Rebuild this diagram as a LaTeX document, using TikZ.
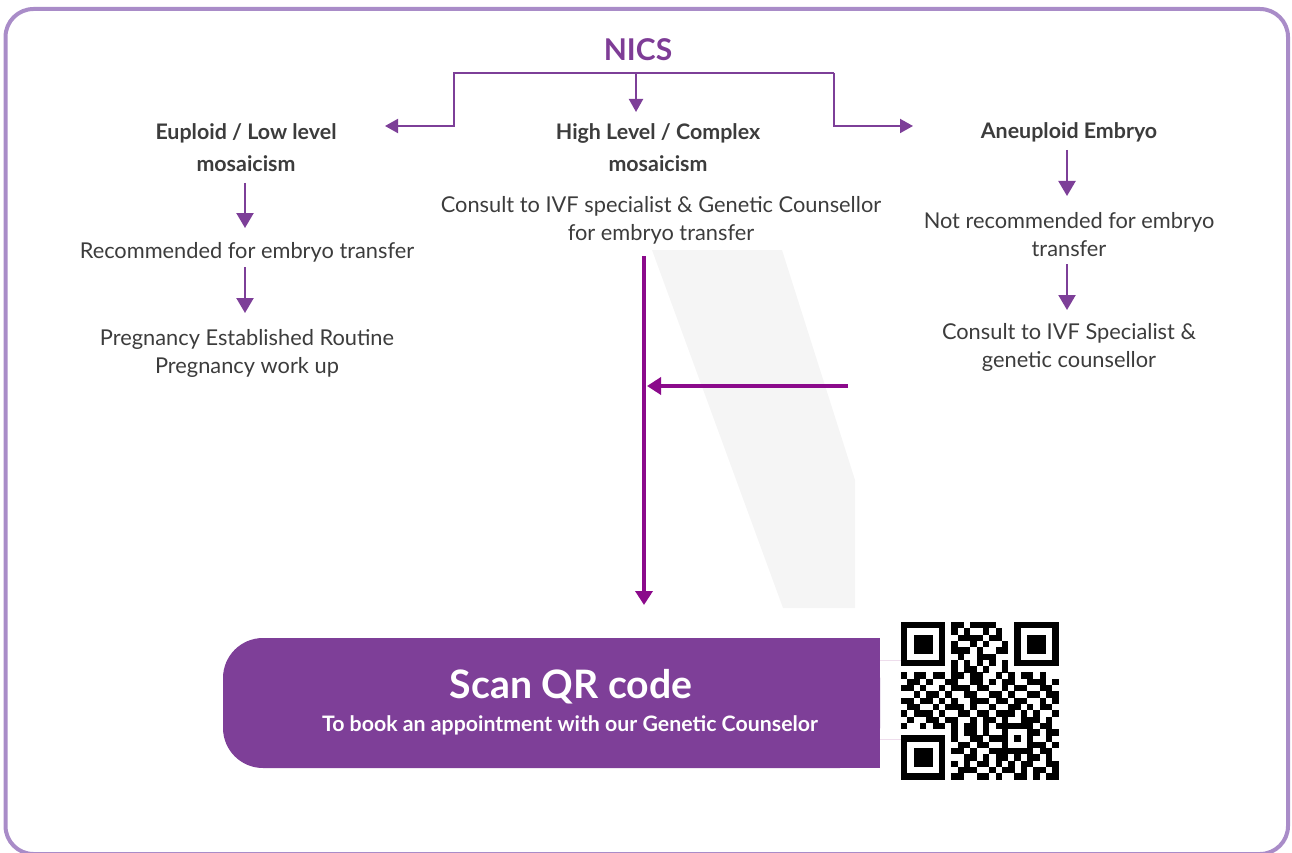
\documentclass[tikz,border=0pt]{standalone}
\usepackage{fontspec}
\setmainfont{Lato}
\usetikzlibrary{arrows.meta}
\definecolor{txtgray}{HTML}{3C3C3C}
\definecolor{nicspurple}{HTML}{7E3C96}
\definecolor{toparrow}{HTML}{7D3F98}
\definecolor{longarrow}{HTML}{8B0A8B}
\definecolor{bannerpurple}{HTML}{7E3F98}
\definecolor{bordercol}{HTML}{A98CC8}
\definecolor{wmgray}{HTML}{F5F5F5}
\definecolor{faintpink}{HTML}{EEDDEC}
\newcount\qrcol
\def\qrrow#1#2{\def\qrr{#1}\qrcol=0\relax\qrparse#2\relax}
\def\qrparse#1{\ifx\relax#1\else\if1#1\fill[qrblack] ({901+\the\qrcol*6.3},{622+\qrr*6.3}) rectangle ++(6.45,6.45);\fi\advance\qrcol by 1\relax\expandafter\qrparse\fi}
\tikzset{
  txt/.style={font=\fontsize{21.8}{28}\selectfont, text=txtgray, align=center, inner sep=0pt},
  btxt/.style={font=\bfseries\fontsize{21.4}{32}\selectfont, text=txtgray, align=center, inner sep=0pt},
  tline/.style={draw=toparrow, line width=2pt},
  tarr/.style={tline, -{Triangle[width=14pt,length=13pt]}},
  carr/.style={draw=toparrow, line width=2.3pt, -{Triangle[width=17pt,length=15pt]}},
  larr/.style={draw=longarrow, line width=3.5pt, -{Triangle[width=17pt,length=14pt]}},
  qrblack/.style={fill=black},
  banner/.style={fill=bannerpurple, draw=none},
}
\begin{document}
\begin{tikzpicture}[x=1pt,y=-1pt]
\useasboundingbox (0,0) rectangle (1292,853);
% outer frame
\draw[bordercol, line width=4pt, rounded corners=28pt] (5.5,9) rectangle (1288,854);
% watermark
\fill[wmgray] (652,250) -- (782,250) -- (855,480) -- (855,608) -- (783,608) -- cycle;
% title
\node[font=\bfseries\fontsize{30}{34}\selectfont, text=nicspurple, inner sep=0pt] (nics) at (638,50) {NICS};
% column heads
\node[btxt] (eu) at (246,147.5) {Euploid / Low level\\mosaicism};
\node[btxt] (hl) at (658,147.5) {High Level / Complex\\mosaicism};
\node[btxt] (an) at (1069,132.5) {Aneuploid Embryo};
% left column
\node[txt] (rec) at (247,252.5) {Recommended for embryo transfer};
\node[txt] (preg) at (247,353.5) {Pregnancy Established Routine\\Pregnancy work up};
% middle column
\node[txt] (cons1) at (661,220.5) {Consult to IVF specialist \& Genetic Counsellor\\for embryo transfer};
% right column
\node[txt] (notrec) at (1069,234.5) {Not recommended for embryo\\transfer};
\node[txt] (cons2) at (1069,347.5) {Consult to IVF Specialist \&\\genetic counsellor};
% bracket connector
\coordinate (barL) at (454,73);
\coordinate (barR) at (834,73);
\coordinate (tipL) at (385,126);
\coordinate (tipR) at (913,126);
\coordinate (midtop) at (636,73);
\coordinate (midtip) at (636,112);
\draw[tarr] (barR) -- (barL) |- (tipL);
\draw[tarr] (barR) |- (tipR);
\draw[tarr] (midtop) -- (midtip);
% column arrows
\coordinate (l1s) at (245,183); \coordinate (l1e) at (245,228);
\coordinate (l2s) at (245,267); \coordinate (l2e) at (245,313);
\coordinate (r1s) at (1067,150); \coordinate (r1e) at (1067,196);
\coordinate (r2s) at (1067,264); \coordinate (r2e) at (1067,310);
\draw[carr] (l1s) -- (l1e);
\draw[carr] (l2s) -- (l2e);
\draw[carr] (r1s) -- (r1e);
\draw[carr] (r2s) -- (r2e);
% long arrows
\coordinate (vs) at (644,256);
\coordinate (ve) at (644,605);
\coordinate (hs) at (848,386);
\coordinate (he) at (647,386);
\draw[larr] (vs) -- (ve);
\draw[larr] (hs) -- (he);
% banner
\fill[banner, rounded corners=40pt] (223,638) rectangle (880,768);
\fill[banner] (500,638) rectangle (880,768);
\node[font=\bfseries\fontsize{39.2}{42}\selectfont, text=white, inner sep=0pt] (scan) at (571,687) {Scan QR code};
\node[font=\bfseries\fontsize{21.3}{22}\selectfont, text=white, inner sep=0pt] (book) at (570,725) {To book an appointment with our Genetic Counselor};
\draw[faintpink, line width=1pt] (880,660) -- (902,660);
\draw[faintpink, line width=1pt] (880,739) -- (902,739);
% QR code
\qrrow{0}{1111111011011110001111111}
\qrrow{1}{1000001010100101001000001}
\qrrow{2}{1011101001111011001011101}
\qrrow{3}{1011101010010100101011101}
\qrrow{4}{1011101011101001101011101}
\qrrow{5}{1000001001001110001000001}
\qrrow{6}{1111111010101010101111111}
\qrrow{7}{0000000010110100100000000}
\qrrow{8}{1011011011011001010110100}
\qrrow{9}{0110100110011010110011101}
\qrrow{10}{1101001011101100101100110}
\qrrow{11}{0010110100110011010011011}
\qrrow{12}{1101101010011101101100101}
\qrrow{13}{0110010111010010011010110}
\qrrow{14}{1011101001101101110101001}
\qrrow{15}{0100110110010110100111010}
\qrrow{16}{1001011010110101111110110}
\qrrow{17}{0000000010110100100011011}
\qrrow{18}{1111111010011011101010010}
\qrrow{19}{1000001001101100100011101}
\qrrow{20}{1011101011010011111110110}
\qrrow{21}{1011101000110101101011010}
\qrrow{22}{1011101010101101010110011}
\qrrow{23}{1000001001110010110101101}
\qrrow{24}{1111111011001101001101011}
\end{tikzpicture}
\end{document}
